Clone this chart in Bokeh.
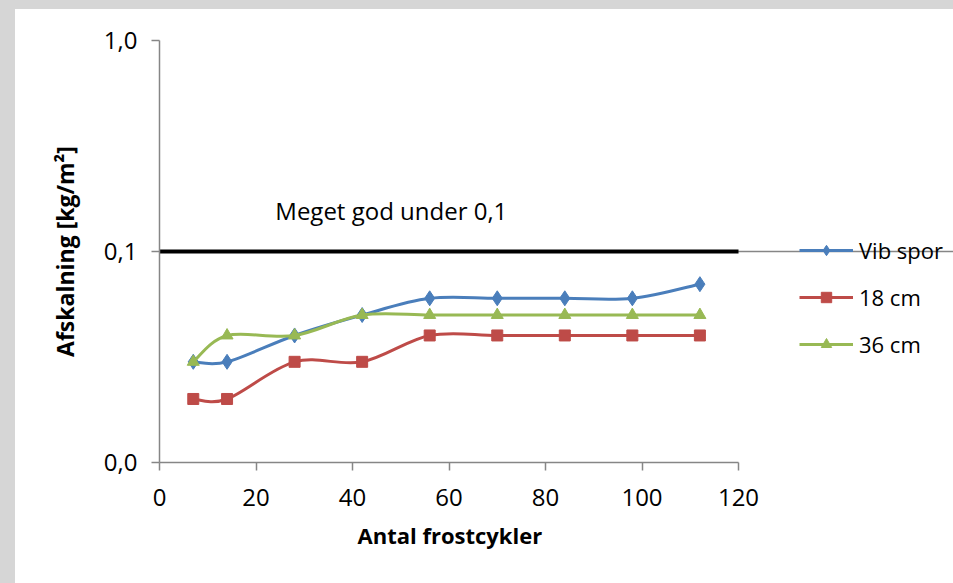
import numpy as np
from bokeh.plotting import figure
from bokeh.models import Range1d, FixedTicker, Legend, LegendItem, ColumnDataSource, Title
from bokeh.core.properties import value
from bokeh.embed import file_html
from bokeh.resources import INLINE

# ---- data ----
cycles = [7, 14, 28, 42, 56, 70, 84, 98, 112]
vib_spor = [0.03, 0.03, 0.04, 0.05, 0.06, 0.06, 0.06, 0.06, 0.07]
cm_18 = [0.02, 0.02, 0.03, 0.03, 0.04, 0.04, 0.04, 0.04, 0.04]
cm_36 = [0.03, 0.04, 0.04, 0.05, 0.05, 0.05, 0.05, 0.05, 0.05]
series_names = ["Vib spor", "18 cm", "36 cm"]
limit_x = [0, 120]
limit_y = [0.1, 0.1]
limit_label = "Meget god under 0,1"
x_ticks = [0, 20, 40, 60, 80, 100, 120]
x_axis_extent = (0, 120)
y_ticks = [0.01, 0.1, 1.0]
y_tick_labels = ["0,0", "0,1", "1,0"]
x_title = "Antal frostcykler"
y_title = "Afskalning [kg/m²]"

FONT = "Open Sans"
colors = ["#4a7ebb", "#be4b48", "#98b954"]
markers = ["diamond", "square", "triangle"]
msizes = [15, 11, 12]


def smooth_source(xs, ys):
    """Excel-like smoothed line: cubic Bezier control points (Catmull-Rom, screen space)."""
    lx = np.asarray(xs, dtype=float)
    ly = np.log10(np.asarray(ys, dtype=float))
    px = np.concatenate([[lx[0]], lx, [lx[-1]]])
    py = np.concatenate([[ly[0]], ly, [ly[-1]]])
    d = dict(x0=[], y0=[], x1=[], y1=[], cx0=[], cy0=[], cx1=[], cy1=[])
    for i in range(len(lx) - 1):
        p0x, p0y = px[i], py[i]
        p1x, p1y = px[i + 1], py[i + 1]
        p2x, p2y = px[i + 2], py[i + 2]
        p3x, p3y = px[i + 3], py[i + 3]
        d["x0"].append(p1x); d["y0"].append(10 ** p1y)
        d["x1"].append(p2x); d["y1"].append(10 ** p2y)
        d["cx0"].append(p1x + (p2x - p0x) / 6.0)
        d["cy0"].append(10 ** (p1y + (p2y - p0y) / 6.0))
        d["cx1"].append(p2x - (p3x - p1x) / 6.0)
        d["cy1"].append(10 ** (p2y - (p3y - p1y) / 6.0))
    return ColumnDataSource(d)


# Layout: element content 938x574 plus a 15px/9px grey border (left/top) = 953x583.
# The drawing canvas takes the border-box size (953x583) and starts at (15, 9).
W, H = 938, 574
CW, CH = W + 15, H + 9
LEFT, TOP = 144, 31
AXIS_W, AXIS_H = 579, 422
FRAME_W = CW - LEFT
x_end = x_axis_extent[1] * FRAME_W / AXIS_W

p = figure(width=W, height=H,
           x_range=Range1d(0, x_end), y_range=Range1d(0.01, 1.0),
           y_axis_type="log",
           output_backend="svg", toolbar_location=None,
           min_border_left=LEFT, min_border_right=0,
           min_border_top=TOP, min_border_bottom=CH - TOP - AXIS_H)
p.outline_line_color = None
p.background_fill_color = "white"
p.border_fill_color = "white"
p.styles = {"box-sizing": "content-box", "background-color": "white",
            "overflow": "hidden",
            "border-left": "15px solid #d6d6d6", "border-top": "9px solid #d6d6d6"}

p.xgrid.visible = False
p.ygrid.ticker = FixedTicker(ticks=y_ticks)
p.ygrid.bounds = x_axis_extent
p.ygrid.grid_line_color = "#868686"
p.ygrid.grid_line_width = 1.5

for ax in (p.xaxis, p.yaxis):
    ax.axis_line_color = "#868686"
    ax.axis_line_width = 1.5
    ax.major_tick_line_color = "#868686"
    ax.major_tick_line_width = 1.5
    ax.major_tick_in = 0
    ax.major_tick_out = 8
    ax.minor_tick_in = 0
    ax.minor_tick_out = 0
    ax.major_label_text_font = FONT
    ax.major_label_text_font_size = "24px"
    ax.major_label_text_color = "black"

p.xaxis.ticker = FixedTicker(ticks=x_ticks)
p.xaxis.bounds = x_axis_extent
p.xaxis.major_label_standoff = 18

# x title centred under the 0..120 axis (not under the wider frame)
p.add_layout(Title(text=x_title, align="left", offset=198, standoff=18,
                   text_font=FONT, text_font_size="22px", text_font_style="bold",
                   text_color="black"), "below")

p.yaxis.ticker = FixedTicker(ticks=y_ticks)
p.yaxis.major_label_overrides = {t: lab for t, lab in zip(y_ticks, y_tick_labels)}
p.yaxis.major_label_standoff = 14
p.yaxis.axis_label = y_title
p.yaxis.axis_label_text_font = FONT
p.yaxis.axis_label_text_font_style = "bold"
p.yaxis.axis_label_text_color = "black"
p.yaxis.axis_label_text_font_size = "23px"
p.yaxis.axis_label_standoff = 20

# threshold line and its note
p.line(limit_x, limit_y, line_color="black", line_width=4)
p.text(x=[24.0], y=[0.157], text=[limit_label],
       text_font=value(FONT), text_font_size="24px",
       text_align="left", text_baseline="middle", text_color="black")

items = []
for name, vals, col, mk, ms in zip(series_names, [vib_spor, cm_18, cm_36], colors, markers, msizes):
    src = smooth_source(cycles, vals)
    b = p.bezier(x0="x0", y0="y0", x1="x1", y1="y1", cx0="cx0", cy0="cy0",
                 cx1="cx1", cy1="cy1", source=src, line_color=col, line_width=3)
    s = p.scatter(cycles, vals, marker=mk, size=ms, fill_color=col, line_color=col)
    items.append(LegendItem(label=name, renderers=[b, s]))

legend = Legend(items=items, location=(640, 103), orientation="vertical",
                glyph_width=54, glyph_height=26, label_height=26, spacing=17,
                padding=0, margin=0, label_standoff=6,
                border_line_color=None, background_fill_alpha=0,
                label_text_font=FONT, label_text_font_size="22px",
                label_text_color="black", label_text_baseline="middle")
p.add_layout(legend)

open("out.html", "w").write(file_html(p, INLINE))
